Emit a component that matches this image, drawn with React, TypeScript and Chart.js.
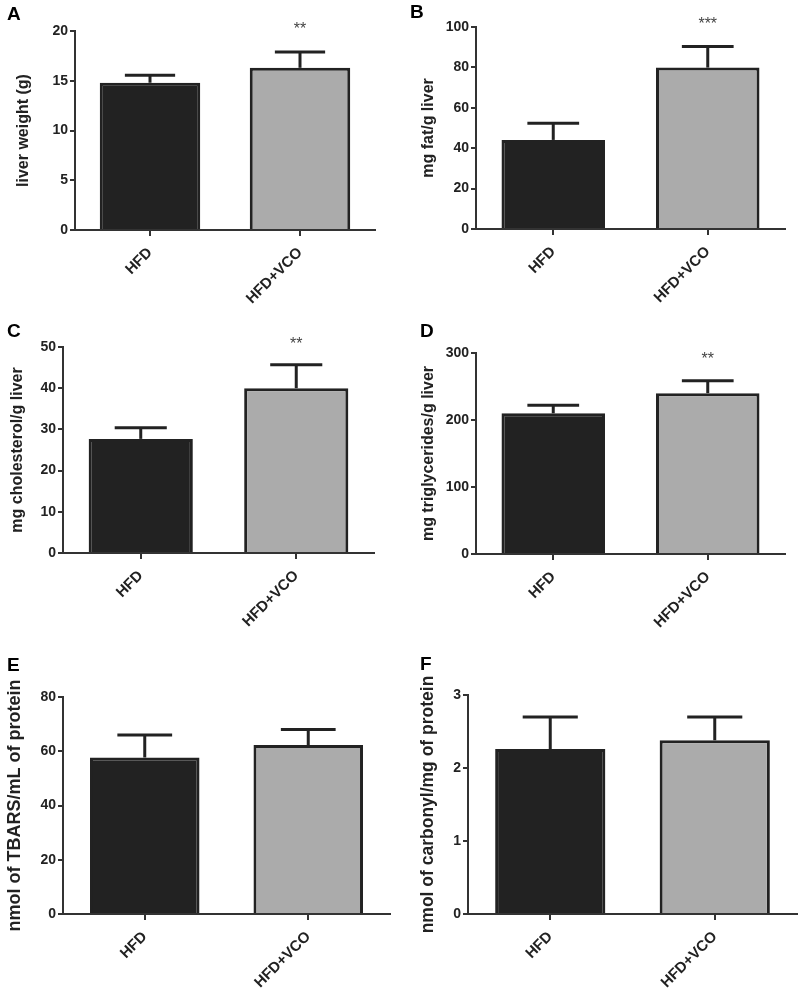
import React, { useEffect, useRef } from 'react';
import { Chart, registerables } from 'chart.js';

Chart.register(...registerables);

// ---- data ----
const categories = ['HFD', 'HFD+VCO'];

const liverWeight = [14.8, 16.3];
const liverWeightSem = [0.75, 1.6];

const liverFat = [44.1, 79.9];
const liverFatSem = [8.2, 10.4];

const liverCholesterol = [27.7, 40.0];
const liverCholesterolSem = [2.7, 5.7];

const liverTriglycerides = [210, 240];
const liverTriglyceridesSem = [12, 18.7];

const tbars = [57.7, 62.3];
const tbarsSem = [8.3, 5.7];

const carbonyl = [2.26, 2.38];
const carbonylSem = [0.44, 0.32];

const significance = ['**', '***', '**', '**', '', ''];
const significanceLevel = [20.5, 103, 51.6, 296, 0, 0];

const FONT = 'Arial, "Liberation Sans", Helvetica, sans-serif';
const INK = '#222222';

type PanelCfg = {
  letter: string;
  title: string;
  values: number[];
  sem: number[];
  max: number;
  step: number;
  sig: string;
  sigAt: number;
  box: { x: number; y: number; w: number; h: number };
  area: { l: number; t: number; r: number; b: number };
  titleX: number;
  titleSize: number;
  letterPos: { x: number; y: number };
};

const panels: PanelCfg[] = [
  {
    letter: 'A', title: 'liver weight (g)', values: liverWeight, sem: liverWeightSem,
    max: 20, step: 5, sig: significance[0], sigAt: significanceLevel[0],
    box: { x: 0, y: 0, w: 400, h: 330 }, area: { l: 75, t: 31, r: 375, b: 230 },
    titleX: 24, titleSize: 16, letterPos: { x: 7, y: 7 },
  },
  {
    letter: 'B', title: 'mg fat/g liver', values: liverFat, sem: liverFatSem,
    max: 100, step: 20, sig: significance[1], sigAt: significanceLevel[1],
    box: { x: 400, y: 0, w: 400, h: 330 }, area: { l: 76, t: 27, r: 385, b: 229 },
    titleX: 29, titleSize: 16, letterPos: { x: 410, y: 5 },
  },
  {
    letter: 'C', title: 'mg cholesterol/g liver', values: liverCholesterol, sem: liverCholesterolSem,
    max: 50, step: 10, sig: significance[2], sigAt: significanceLevel[2],
    box: { x: 0, y: 330, w: 400, h: 330 }, area: { l: 63, t: 17, r: 374, b: 223 },
    titleX: 18, titleSize: 16, letterPos: { x: 7, y: 324 },
  },
  {
    letter: 'D', title: 'mg triglycerides/g liver', values: liverTriglycerides, sem: liverTriglyceridesSem,
    max: 300, step: 100, sig: significance[3], sigAt: significanceLevel[3],
    box: { x: 400, y: 330, w: 400, h: 330 }, area: { l: 76, t: 23, r: 385, b: 224 },
    titleX: 29, titleSize: 16, letterPos: { x: 420, y: 324 },
  },
  {
    letter: 'E', title: 'nmol of TBARS/mL of protein', values: tbars, sem: tbarsSem,
    max: 80, step: 20, sig: significance[4], sigAt: significanceLevel[4],
    box: { x: 0, y: 660, w: 400, h: 335 }, area: { l: 63, t: 37, r: 390, b: 254 },
    titleX: 15, titleSize: 18, letterPos: { x: 7, y: 658 },
  },
  {
    letter: 'F', title: 'nmol of carbonyl/mg of protein', values: carbonyl, sem: carbonylSem,
    max: 3, step: 1, sig: significance[5], sigAt: significanceLevel[5],
    box: { x: 400, y: 660, w: 400, h: 335 }, area: { l: 68, t: 35, r: 397, b: 254 },
    titleX: 28, titleSize: 17.5, letterPos: { x: 420, y: 657 },
  },
];

const errorBarPlugin = {
  id: 'errorBars',
  afterDatasetsDraw(chart: any, _args: any, opts: any) {
    const { ctx } = chart;
    const meta = chart.getDatasetMeta(0);
    const yScale = chart.scales.y;
    const xScale = chart.scales.x;
    const data = chart.data.datasets[0].data as number[];
    const sem: number[] = opts.sem || [];
    ctx.save();
    ctx.strokeStyle = INK;
    ctx.lineWidth = 3;
    ctx.lineCap = 'butt';
    meta.data.forEach((bar: any, i: number) => {
      const v = data[i];
      const base = yScale.getPixelForValue(v);
      const top = yScale.getPixelForValue(v + sem[i]);
      const half = bar.width / 4;
      ctx.beginPath();
      ctx.moveTo(bar.x, base);
      ctx.lineTo(bar.x, top);
      ctx.stroke();
      ctx.beginPath();
      ctx.moveTo(bar.x - half, top);
      ctx.lineTo(bar.x + half, top);
      ctx.stroke();
    });
    if (opts.sig) {
      ctx.fillStyle = '#444444';
      ctx.font = `16px ${FONT}`;
      ctx.textAlign = 'center';
      ctx.textBaseline = 'middle';
      const x = xScale.getPixelForValue(1);
      const y = yScale.getPixelForValue(opts.sigAt);
      ctx.fillText(opts.sig, x, y + 4);
    }
    ctx.restore();
  },
};

function makeChart(canvas: HTMLCanvasElement, p: PanelCfg) {
  const xHeight = p.box.h - p.area.b;
  return new Chart(canvas, {
    type: 'bar',
    data: {
      labels: categories,
      datasets: [
        {
          data: p.values,
          backgroundColor: ['#222222', '#ababab'],
          borderColor: INK,
          borderWidth: 3,
          categoryPercentage: 1,
          barPercentage: 0.67,
        },
      ],
    },
    options: {
      responsive: false,
      animation: false,
      events: [],
      layout: {
        padding: { left: 0, top: p.area.t, right: p.box.w - p.area.r, bottom: 0 },
      },
      plugins: {
        legend: { display: false },
        tooltip: { enabled: false },
        // @ts-ignore
        errorBars: { sem: p.sem, sig: p.sig, sigAt: p.sigAt },
      },
      scales: {
        x: {
          type: 'category',
          offset: true,
          afterFit: (s: any) => { s.height = xHeight; },
          grid: {
            display: true, drawOnChartArea: false, drawTicks: true, tickLength: 6,
            offset: false, color: '#333333', lineWidth: 2,
          },
          border: { display: true, color: '#333333', width: 2 },
          ticks: {
            minRotation: 45, maxRotation: 45, autoSkip: false, padding: 8,
            color: INK, font: { family: FONT, size: 15, weight: 'bold' },
          },
        },
        y: {
          min: 0, max: p.max,
          afterFit: (s: any) => { s.width = p.area.l; },
          grid: {
            display: true, drawOnChartArea: false, drawTicks: true, tickLength: 5,
            color: '#333333', lineWidth: 2,
          },
          border: { display: true, color: '#333333', width: 2 },
          ticks: {
            stepSize: p.step, padding: 2, color: INK,
            font: { family: FONT, size: 14, weight: 'bold' },
          },
          title: {
            display: true, text: p.title, color: INK,
            font: { family: FONT, size: p.titleSize, weight: 'bold' },
            padding: { top: p.titleX - (p.titleSize * 1.2) / 2, bottom: 0 },
          },
        },
      },
    },
    plugins: [errorBarPlugin as any],
  });
}

function Panel({ p }: { p: PanelCfg }) {
  const ref = useRef<HTMLCanvasElement | null>(null);
  useEffect(() => {
    if (!ref.current) return;
    const chart = makeChart(ref.current, p);
    return () => chart.destroy();
  }, [p]);
  return (
    <canvas
      ref={ref}
      width={p.box.w}
      height={p.box.h}
      style={{ position: 'absolute', left: p.box.x, top: p.box.y, width: p.box.w, height: p.box.h }}
    />
  );
}

export default function App() {
  return (
    <div style={{ position: 'absolute', left: 0, top: 0, width: 800, height: 995, background: '#ffffff', overflow: 'hidden' }}>
      {panels.map((p) => (
        <Panel key={p.letter} p={p} />
      ))}
      {panels.map((p) => (
        <div
          key={'l' + p.letter}
          style={{
            position: 'absolute', left: p.letterPos.x, top: p.letterPos.y - 3,
            font: `bold 19px ${FONT}`, lineHeight: '19px', color: '#000',
          }}
        >
          {p.letter}
        </div>
      ))}
    </div>
  );
}
